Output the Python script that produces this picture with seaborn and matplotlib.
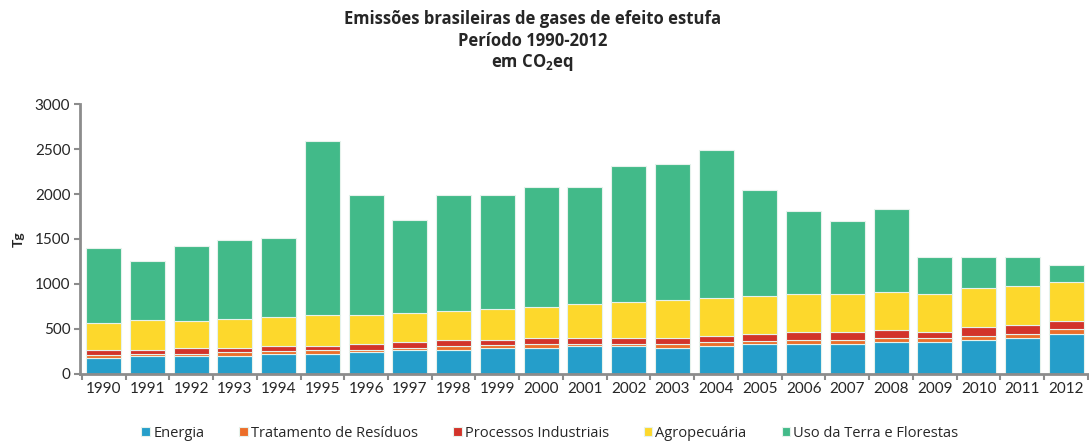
import numpy as np
import matplotlib
matplotlib.use('Agg')
import matplotlib.pyplot as plt
import pandas as pd
import seaborn as sns

anos = [str(a) for a in range(1990, 2013)]

# valores (Tg CO2eq)
energia = [174, 200, 200, 200, 222, 222, 241, 267, 267, 293, 289, 311,
           311, 289, 311, 333, 333, 333, 356, 356, 381, 404, 448]
residuos = [40, 25, 25, 40, 28, 42, 30, 26, 42, 24, 42, 26,
            26, 44, 45, 28, 48, 48, 48, 48, 41, 40, 48]
processos = [49, 44, 64, 49, 61, 47, 62, 66, 72, 64, 73, 67,
             67, 71, 70, 87, 89, 89, 89, 66, 97, 97, 89]
agropecuaria = [300, 326, 300, 322, 322, 345, 323, 322, 323, 345, 344, 370,
                392, 414, 415, 415, 415, 415, 414, 415, 437, 437, 437]
uso_terra = [837, 661, 829, 879, 877, 1934, 1334, 1034, 1286, 1264, 1332, 1306,
             1517, 1517, 1654, 1177, 925, 812, 926, 415, 344, 322, 189]

series = ['Energia', 'Tratamento de Resíduos', 'Processos Industriais',
          'Agropecuária', 'Uso da Terra e Florestas']
cores = ['#259ECA', '#EC6E2A', '#D2332A', '#FDD82C', '#42BA89']

df = pd.DataFrame({'ano': anos, 'Energia': energia,
                   'Tratamento de Resíduos': residuos,
                   'Processos Industriais': processos,
                   'Agropecuária': agropecuaria,
                   'Uso da Terra e Florestas': uso_terra})

sns.set_style('white')
plt.rcParams['font.family'] = ['Lato', 'DejaVu Sans']
plt.rcParams['mathtext.default'] = 'regular'
cond = ['Open Sans', 'DejaVu Sans']

fig = plt.figure(figsize=(10.89, 4.43), dpi=100)
ax = fig.add_axes([0.0735, 0.156, 0.9255, 0.609])

base = np.zeros(len(anos))
for s, c in zip(series, cores):
    sns.barplot(data=df, x='ano', y=s, color=c, bottom=base, width=0.8,
                edgecolor='#E6F2EC', linewidth=0.8, label=s, ax=ax,
                saturation=1)
    base = base + df[s].values

if ax.get_legend() is not None:
    ax.get_legend().remove()

ax.set_ylim(0, 3000)
ax.set_xlim(-0.54, 22.5)
ax.set_yticks(range(0, 3001, 500))
ax.set_xlabel('')
ax.set_ylabel('Tg', fontsize=10, fontweight='bold', labelpad=4)
ax.yaxis.set_label_coords(-0.055, 0.5)

# marcas do eixo x entre as barras
ax.set_xticks(np.arange(-0.5, 23, 1), minor=True)
ax.tick_params(axis='x', which='major', length=0, labelsize=11, pad=6)
ax.tick_params(axis='x', which='minor', length=4, width=1.5, color='#8C8C8C', direction='out')
ax.tick_params(axis='y', length=4, width=1.5, color='#8C8C8C', labelsize=11, pad=3, direction='out')
ax.tick_params(bottom=True, left=True, which='both')
for lado in ['top', 'right']:
    ax.spines[lado].set_visible(False)
for lado in ['left', 'bottom']:
    ax.spines[lado].set_color('#8C8C8C')
    ax.spines[lado].set_linewidth(2)

fig.text(0.489, 0.958, 'Emissões brasileiras de gases de efeito estufa',
         ha='center', va='center', fontsize=12, fontweight='bold', family=cond)
fig.text(0.489, 0.908, 'Período 1990-2012',
         ha='center', va='center', fontsize=12, fontweight='bold', family=cond)
fig.text(0.489, 0.858, 'em CO$_2$eq',
         ha='center', va='center', fontsize=12, fontweight='bold', family=cond)

handles, labels = ax.get_legend_handles_labels()
leg = fig.legend(handles, labels, loc='center', bbox_to_anchor=(0.505, 0.022), ncol=5,
                 frameon=False, handlelength=0.6, handleheight=0.6, handletextpad=0.2,
                 columnspacing=2.4, prop={'family': cond, 'size': 10.5})

fig.savefig('out.png', dpi=100)
